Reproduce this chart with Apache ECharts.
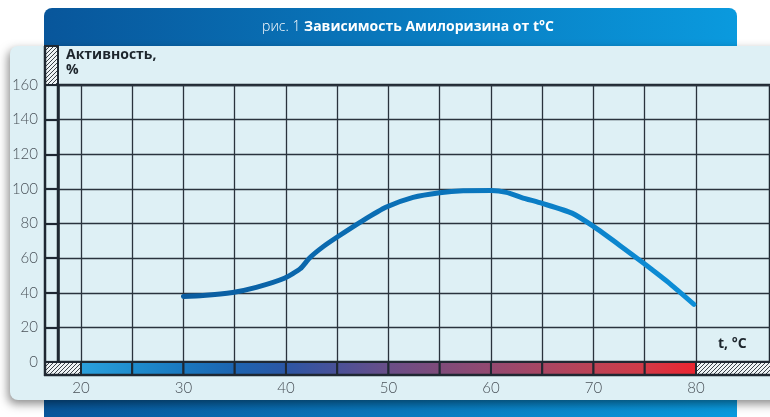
<!DOCTYPE html>
<html><head><meta charset="utf-8">
<script src="https://cdn.jsdelivr.net/npm/echarts@6.0.0/dist/echarts.min.js"></script>
<style>html,body{margin:0;padding:0;background:#fff;}#c{width:770px;height:417px;}</style>
</head><body><div id="c"></div>
<script>
// ---- data ----
const temperature = [30, 31.9, 34.8, 37.1, 39.9, 41.4, 42.3, 43.6, 45, 47.5, 49.8, 52.4, 55, 57.3, 60, 61.5, 63, 65, 67.9, 70, 72.6, 74.9, 77.5, 79.8];
const activity    = [37.9, 38.4, 40.2, 43.1, 48.5, 53.9, 60.1, 66.5, 72.2, 81.7, 89.5, 95.1, 97.8, 98.9, 99, 98, 95, 91.6, 86, 78.3, 67.2, 57, 45, 33.3];
const xTickValues  = [20, 25, 30, 35, 40, 45, 50, 55, 60, 65, 70, 75, 80];
const xLabelValues = [20, 30, 40, 50, 60, 70, 80];
const yTicks = [0, 20, 40, 60, 80, 100, 120, 140, 160];
const barEdges = [20, 25, 30, 35, 40, 45, 50, 55, 60, 65, 70, 75, 80];
const titleLight = 'рис. 1 ';
const titleBold = 'Зависимость Амилоризина от t°C';
const yName = 'Активность,\n%';
const xName = 't, °C';

// ---- styling ----
const segColors = ['#2ba0dc','#1f8dcd','#1a78bf','#1d64b0','#2c56a4','#4a5198','#6a4e88','#7f4b7a','#944970','#a84663','#bd4255','#d23a47','#ec2430'];
const dark = '#1f2832';
const gridLine = '#2a333d';

function hatch() {
  const c = document.createElement('canvas');
  c.width = 4; c.height = 4;
  const g = c.getContext('2d');
  g.fillStyle = '#eef3f5'; g.fillRect(0,0,4,4);
  g.strokeStyle = '#3a4148'; g.lineWidth = 1;
  g.beginPath();
  g.moveTo(-1,5); g.lineTo(5,-1);
  g.moveTo(-1,1); g.lineTo(1,-1);
  g.moveTo(3,5); g.lineTo(5,3);
  g.stroke();
  return {image: c, repeat: 'repeat'};
}
const hatchFill = hatch();

const segments = [];
for (let i = 0; i < barEdges.length - 1; i++) segments.push([barEdges[i], barEdges[i+1], i]);

const chart = echarts.init(document.getElementById('c'), null, {renderer: 'canvas'});
chart.setOption({
  animation: false,
  textStyle: {fontFamily: 'Lato'},
  grid: {left: 58, right: 0, top: 85, bottom: 55, show: true, borderColor: dark, borderWidth: 2.5,
         containLabel: false, outerBoundsMode: 'none'},
  xAxis: {
    type: 'value', min: 17.76, max: 87.22,
    axisLine: {show: false},
    axisTick: {show: false, customValues: xTickValues},
    axisLabel: {customValues: xLabelValues, margin: 19, fontSize: 15, color: '#4a5259', fontWeight: 300},
    splitLine: {show: true, lineStyle: {color: gridLine, width: 1.3}}
  },
  yAxis: {
    type: 'value', min: yTicks[0], max: yTicks[yTicks.length-1], interval: yTicks[1]-yTicks[0],
    axisLine: {show: true, lineStyle: {color: dark, width: 2.5}},
    axisTick: {show: true, inside: false, length: 13, lineStyle: {color: dark, width: 2.2}},
    axisLabel: {margin: 20, fontSize: 15, color: '#4a5259', fontWeight: 300},
    splitLine: {show: true, lineStyle: {color: gridLine, width: 1.3}}
  },
  graphic: [
    {type: 'rect', z: -20, shape: {x: 44, y: 8, width: 693, height: 430, r: 8},
     style: {fill: new echarts.graphic.LinearGradient(0,0,1,0,[{offset:0,color:'#08569b'},{offset:1,color:'#0a9ade'}])}},
    {type: 'text', z: -19, style: {x: 408, y: 27, align: 'center', verticalAlign: 'middle',
       text: '{a|' + titleLight + '}{b|' + titleBold + '}',
       rich: {a: {fontSize: 14, fontFamily: 'Open Sans', fontWeight: 300, fill: '#ffffff', color: '#ffffff'},
              b: {fontSize: 14, fontFamily: 'Open Sans', fontWeight: 'bold', fill: '#ffffff', color: '#ffffff'}}}},
    {type: 'rect', z: -18, shape: {x: 10, y: 46, width: 800, height: 354, r: [8,0,0,8]},
     style: {fill: '#def0f5', shadowBlur: 10, shadowColor: 'rgba(0,0,0,0.45)', shadowOffsetY: 4, shadowOffsetX: -2}},
    {type: 'rect', z: 5, shape: {x: 45, y: 46, width: 13, height: 39}, style: {fill: hatchFill, stroke: dark, lineWidth: 2}},
    {type: 'rect', z: 5, shape: {x: 45, y: 362, width: 36, height: 13}, style: {fill: hatchFill, stroke: dark, lineWidth: 2}},
    {type: 'rect', z: 5, shape: {x: 696, y: 362, width: 80, height: 13}, style: {fill: hatchFill, stroke: dark, lineWidth: 2}},
    {type: 'line', z: 6, shape: {x1: 45, y1: 46, x2: 45, y2: 376}, style: {stroke: dark, lineWidth: 2.5}},
    {type: 'line', z: 6, shape: {x1: 44, y1: 375, x2: 770, y2: 375}, style: {stroke: dark, lineWidth: 2.5}},
    {type: 'text', z: 6, style: {x: 66, y: 48, text: yName, fontSize: 14, fontWeight: 'bold', fontFamily: 'Open Sans', fill: '#1d252c', lineHeight: 15}},
    {type: 'text', z: 6, style: {x: 718, y: 344, verticalAlign: 'middle', text: xName, fontSize: 14, fontWeight: 'bold', fontFamily: 'Open Sans', fill: '#1d252c'}}
  ],
  series: [
    {
      type: 'custom', silent: true, z: 4, clip: false,
      encode: {x: [0, 1], y: 2},
      data: segments,
      renderItem: function (params, api) {
        const a = api.coord([api.value(0), 0]);
        const b = api.coord([api.value(1), 0]);
        const i = api.value(2);
        return {type: 'rect', shape: {x: a[0], y: a[1], width: b[0] - a[0], height: 13},
          style: {fill: new echarts.graphic.LinearGradient(0,0,1,0,[{offset:0,color:segColors[i]},{offset:1,color:segColors[i+1]}]),
                  stroke: dark, lineWidth: 2}};
      }
    },
    {
      type: 'line', z: 10, smooth: 0.2, showSymbol: false, silent: true,
      data: temperature.map((t, i) => [t, activity[i]]),
      lineStyle: {width: 5, cap: 'round', join: 'round',
        color: new echarts.graphic.LinearGradient(0,0,1,0,[{offset:0,color:'#0a5c9f'},{offset:0.5,color:'#0a73ba'},{offset:1,color:'#0d8fd8'}])}
    }
  ]
});
</script></body></html>
